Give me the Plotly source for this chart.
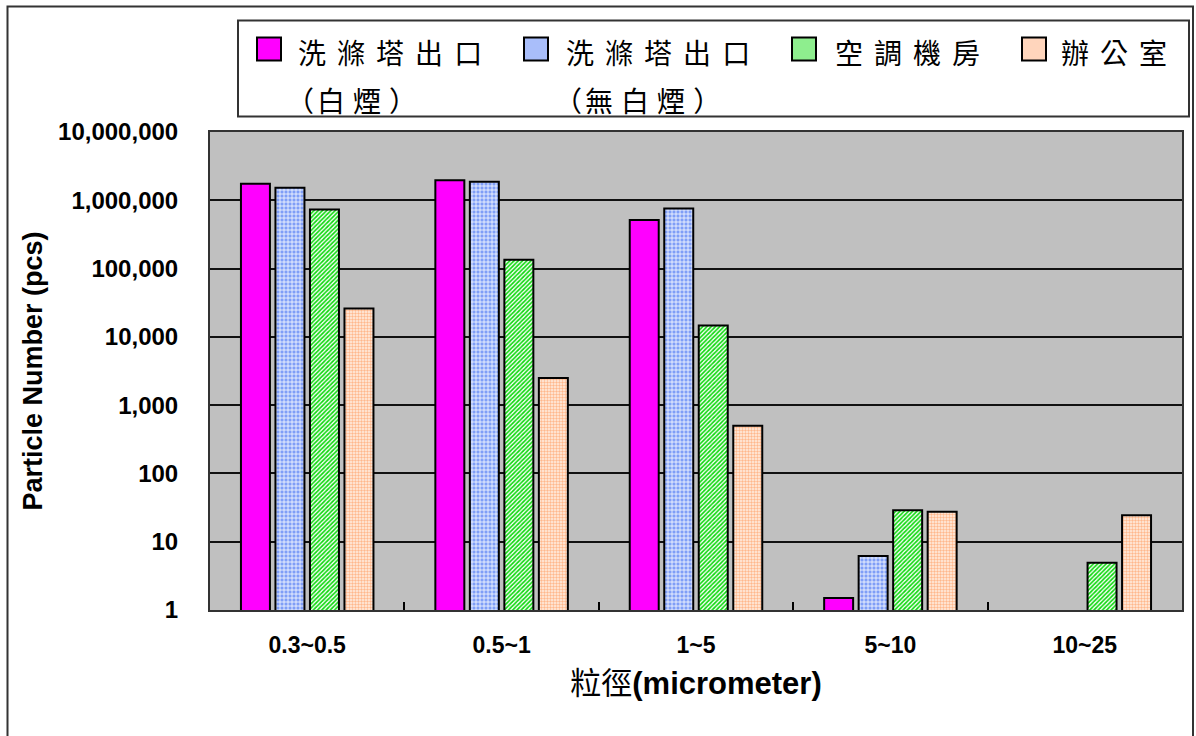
import plotly.graph_objects as go

# Particle size bins (micrometer)
size_bins = ["0.3~0.5", "0.5~1", "1~5", "5~10", "10~25"]

# Particle counts per location (pcs)
scrubber_white_smoke = [1740000, 1970000, 516000, 1.5, None]
scrubber_no_smoke = [1520000, 1870000, 760000, 6.2, None]
ac_room = [733000, 135000, 14700, 29, 4.9]
office = [26000, 2500, 500, 27.4, 24.4]

# Series labels: first legend line and the bracketed note on the second line
label_line1 = ["洗滌塔出口", "洗滌塔出口", "空調機房", "辦公室"]
label_note = ["白煙", "無白煙", "", ""]

# Y axis ticks
y_tickvals = [1, 10, 100, 1000, 10000, 100000, 1000000, 10000000]
y_ticktext = ["1", "10", "100", "1,000", "10,000", "100,000", "1,000,000", "10,000,000"]

W, H = 1196, 736
L, R, T, B = 210, 14, 132, 126
PW, PH = W - L - R, H - T - B


def px(x):
    return (x - L) / PW


def py(y):
    return (H - B - y) / PH


styles = [
    dict(color="#FF00FF"),
    dict(color="#A9BEFA", pattern=dict(shape="+", fgcolor="#FFFFFF", bgcolor="#7F9EF7",
                                       size=4, solidity=0.35, fillmode="replace")),
    dict(color="#8EEE8E", pattern=dict(shape="/", fgcolor="#10D810", bgcolor="#FFFFFF",
                                       size=3, solidity=0.55, fillmode="replace")),
    dict(color="#FFD5BC", pattern=dict(shape=".", fgcolor="#FFB88C", bgcolor="#FFF0E6",
                                       size=3, solidity=0.5, fillmode="replace")),
]
series = [scrubber_white_smoke, scrubber_no_smoke, ac_room, office]

fig = go.Figure()
for vals, st, l1, note in zip(series, styles, label_line1, label_note):
    marker = dict(line=dict(color="black", width=2), **st)
    name = l1 + (f"（{note}）" if note else "")
    fig.add_trace(go.Bar(x=size_bins, y=vals, name=name, marker=marker))

font_en = "Liberation Sans, Arial, sans-serif"
font_cjk = "Noto Sans CJK TC"

fig.update_layout(
    width=W, height=H,
    margin=dict(l=L, r=R, t=T, b=B, autoexpand=False),
    barmode="group", bargap=0.29, bargroupgap=0.16,
    plot_bgcolor="#C0C0C0", paper_bgcolor="white",
    showlegend=False,
    font=dict(family=font_en, color="black"),
)

fig.update_yaxes(
    type="log", range=[0, 7],
    tickvals=y_tickvals, ticktext=y_ticktext,
    tickfont=dict(family=font_en, size=24, weight="bold"),
    ticks="", ticklabelstandoff=25,
    showgrid=True, gridcolor="#111111", gridwidth=1.5,
    showline=True, linecolor="#333333", linewidth=2, mirror=True,
    zeroline=False,
    title=dict(text="Particle Number (pcs)", standoff=8,
               font=dict(family=font_en, size=27, weight="bold")),
    automargin=False,
)

fig.update_xaxes(
    tickfont=dict(family=font_en, size=23, weight="bold"),
    ticks="inside", tickson="boundaries", ticklen=8, tickcolor="black", tickwidth=1.5,
    ticklabelstandoff=13,
    showline=True, linecolor="#333333", linewidth=2, mirror=True,
    title=dict(text=f'<span style="font-family:{font_cjk};font-weight:normal">粒徑</span>(micrometer)',
               standoff=12, font=dict(family=font_en, size=31, weight="bold")),
    automargin=False,
)

shapes = []
annotations = []

# Outer chart frame
shapes.append(dict(type="rect", xref="paper", yref="paper",
                   x0=px(7.5), x1=px(1193), y0=py(760), y1=py(6.5),
                   line=dict(color="#333333", width=2), fillcolor="rgba(0,0,0,0)"))

# Legend box
shapes.append(dict(type="rect", xref="paper", yref="paper",
                   x0=px(238), x1=px(1189), y0=py(116.5), y1=py(20.5),
                   line=dict(color="#333333", width=2), fillcolor="white"))

legend_sq_x = [257, 524, 792, 1022]
legend_text_x = [296, 564, 833, 1059]
legend_colors = ["#FF00FF", "#A9BEFA", "#8EEE8E", "#FFD5BC"]


def gap(px_width):
    # fixed-width spacer made from an en space at a chosen font size
    return f'<span style="font-size:{px_width * 2}px">\u2002</span>'


def spaced(s, w):
    return gap(w).join(list(s))


for sx, tx, c, l1, note in zip(legend_sq_x, legend_text_x, legend_colors, label_line1, label_note):
    shapes.append(dict(type="rect", xref="paper", yref="paper",
                       x0=px(sx), x1=px(sx + 24), y0=py(60.5), y1=py(37.5),
                       line=dict(color="black", width=2), fillcolor=c))
    annotations.append(dict(xref="paper", yref="paper", x=px(tx), y=py(51.5),
                            xanchor="left", yanchor="middle", showarrow=False,
                            text=spaced(l1, 11), font=dict(family=font_cjk, size=28, color="black")))
    if note:
        line2 = "（" + gap(3) + spaced(note, 8) + gap(8) + "）"
        annotations.append(dict(xref="paper", yref="paper", x=px(tx - 12), y=py(100),
                                xanchor="left", yanchor="middle", showarrow=False,
                                text=line2, font=dict(family=font_cjk, size=28, color="black")))

fig.update_layout(shapes=shapes, annotations=annotations)

fig.write_html("out.html")
